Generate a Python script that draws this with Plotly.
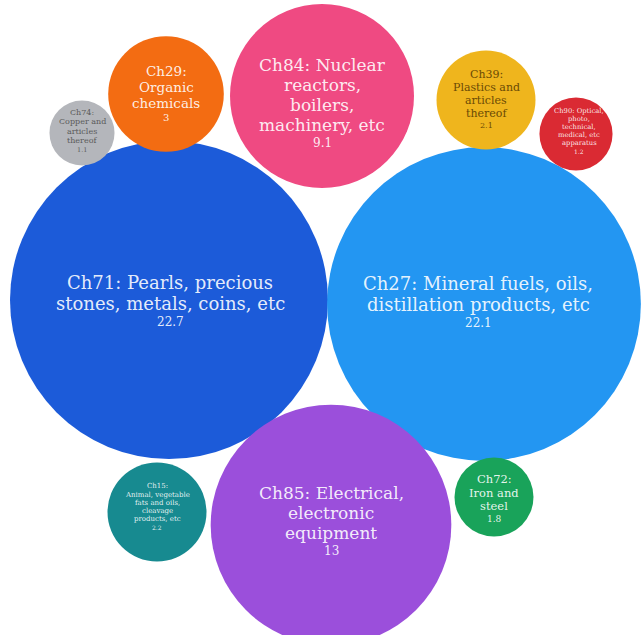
import plotly.graph_objects as go

labels = [
    "Ch71: Pearls, precious<br>stones, metals, coins, etc",
    "Ch27: Mineral fuels, oils,<br>distillation products, etc",
    "Ch85: Electrical,<br>electronic<br>equipment",
    "Ch84: Nuclear<br>reactors,<br>boilers,<br>machinery, etc",
    "Ch29:<br>Organic<br>chemicals",
    "Ch39:<br>Plastics and<br>articles<br>thereof",
    "Ch72:<br>Iron and<br>steel",
    "Ch15:<br>Animal, vegetable<br>fats and oils,<br>cleavage<br>products, etc",
    "Ch90: Optical,<br>photo,<br>technical,<br>medical, etc<br>apparatus",
    "Ch74:<br>Copper and<br>articles<br>thereof",
]
values = [22.7, 22.1, 13, 9.1, 3, 2.1, 1.8, 2.2, 1.2, 1.1]
value_text = ["22.7", "22.1", "13", "9.1", "3", "2.1", "1.8", "2.2", "1.2", "1.1"]
# bubble area (same units as values)
bubble_area = [22.7, 22.1, 13, 7.6, 3, 2.2, 1.4, 2.2, 1.2, 0.95]

# bubble centre positions (pixel space of the packed layout)
cx = [169, 484, 331, 322, 166, 486, 494, 157, 576, 82]
cy = [300, 304, 525, 96, 94, 100, 497, 512, 134, 133]
# label block centres
tx = [170, 478, 331, 322, 166, 486, 494, 157, 579, 82]
ty = [302, 303, 522, 104, 94, 100, 499, 507, 131, 131]

colors = ["#1c5bd9", "#2396f2", "#9b4fdb", "#ef4a82", "#f36c12",
          "#efb51d", "#19a35a", "#178a90", "#da2a33", "#b4b6bb"]
text_colors = ["rgba(255,255,255,0.9)"] * 10
text_colors[5] = "#6a4a05"
text_colors[9] = "#5a5a5a"
label_sizes = [18, 18, 17, 17, 13.5, 11, 11.5, 7, 6.8, 8]
value_sizes = [12, 12, 12, 12, 10, 8, 9, 6, 6, 6.5]

max_diam = 318
sizeref = 2.0 * max(bubble_area) / (max_diam ** 2)

fig = go.Figure()
fig.add_trace(go.Scatter(
    x=cx, y=cy,
    mode="markers",
    marker=dict(size=bubble_area, sizemode="area", sizeref=sizeref,
                color=colors, opacity=1, line=dict(width=0)),
    hoverinfo="skip",
    cliponaxis=False,
))

annotations = []
for i, lab in enumerate(labels):
    lines = lab.split("<br>")
    fs, vs = label_sizes[i], value_sizes[i]
    gap = 1.18 * fs
    vgap = 0.6 * (fs + vs) + 0.4
    offsets = [k * gap for k in range(len(lines))]
    offsets.append(offsets[-1] + vgap)
    mid = (offsets[0] + offsets[-1]) / 2
    entries = [(l, fs) for l in lines] + [(value_text[i], vs)]
    for (txt, size), off in zip(entries, offsets):
        annotations.append(dict(
            x=tx[i], y=ty[i] + off - mid, xref="x", yref="y",
            text=txt, showarrow=False,
            xanchor="center", yanchor="middle",
            font=dict(family="DejaVu Serif", size=size, color=text_colors[i]),
        ))

fig.update_layout(
    width=644, height=635,
    margin=dict(l=0, r=0, t=0, b=0),
    paper_bgcolor="white", plot_bgcolor="white",
    showlegend=False,
    xaxis=dict(range=[0, 644], visible=False, fixedrange=True),
    yaxis=dict(range=[635, 0], visible=False, fixedrange=True),
    annotations=annotations,
)

fig.write_html(
    "out.html",
    config={"displayModeBar": False},
    post_script="document.body.style.margin='0';document.body.style.overflow='hidden';",
)
